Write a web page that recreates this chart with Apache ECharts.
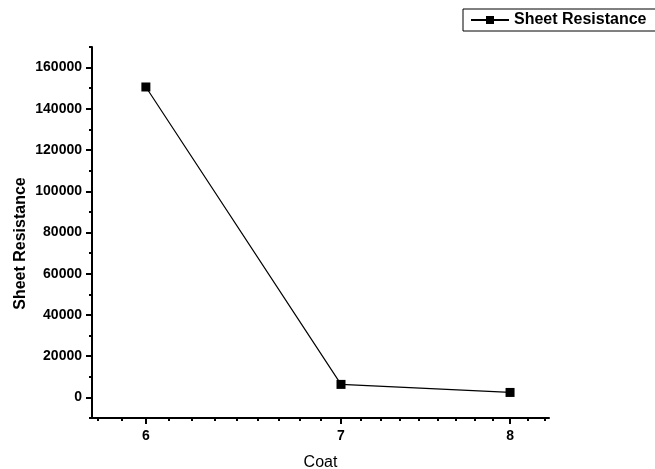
<!DOCTYPE html>
<html>
<head>
<meta charset="utf-8">
<script src="https://cdn.jsdelivr.net/npm/echarts@6/dist/echarts.min.js"></script>
<style>
html,body{margin:0;padding:0;background:#fff;}
#chart{width:655px;height:469px;}
</style>
</head>
<body>
<div id="chart"></div>
<script>
// Data
var coats = [6, 7, 8];
var sheetResistance = [150600, 6300, 2400];
var xTickLabels = [6, 7, 8];
var yTickLabels = [0, 20000, 40000, 60000, 80000, 100000, 120000, 140000, 160000];
var seriesName = 'Sheet Resistance';

// Tick helpers (axis decoration only)
var xMinor = [];
(function(){
  var starts = [5, 6, 7, 8];
  for (var s = 0; s < starts.length; s++) {
    for (var k = 1; k <= 8; k++) {
      var v = starts[s] + k / 9;
      if (v >= 5.75 && v <= 8.25) xMinor.push(v);
    }
  }
})();
var yMinor = [];
for (var v = -10000; v <= 170000; v += 20000) yMinor.push(v);

var font = '"Liberation Sans", Arial, sans-serif';
var chart = echarts.init(document.getElementById('chart'), null, {renderer: 'canvas'});
var axisLineStyle = {color: '#000', width: 2};

chart.setOption({
  animation: false,
  backgroundColor: '#fff',
  grid: {left: 92, right: 106, top: 47, bottom: 51, containLabel: false, outerBoundsMode: 'none'},
  legend: {
    left: 463, top: 9,
    data: [seriesName],
    itemWidth: 38, itemHeight: 10,
    itemGap: 5,
    borderColor: '#000', borderWidth: 1, borderRadius: 0,
    padding: [3, 60, 3, 7],
    textStyle: {fontFamily: font, fontSize: 16, fontWeight: 'bold', color: '#000'}
  },
  xAxis: [{
    type: 'log', logBase: 10, min: 5.75, max: 8.25,
    position: 'bottom',
    name: 'Coat', nameLocation: 'middle', nameGap: 37, nameMoveOverlap: false,
    nameTextStyle: {fontFamily: font, fontSize: 16, color: '#000'},
    axisLine: {show: true, onZero: false, lineStyle: axisLineStyle},
    axisTick: {show: true, inside: false, length: 6, lineStyle: {color: '#000', width: 2}, customValues: xTickLabels},
    axisLabel: {show: true, margin: 11, fontFamily: font, fontSize: 14, fontWeight: 'bold', color: '#000', customValues: xTickLabels,
      formatter: function(v){ return String(Math.round(v)); }},
    splitLine: {show: false}, minorTick: {show: false}
  }, {
    type: 'log', logBase: 10, min: 5.75, max: 8.25,
    position: 'bottom', offset: 0,
    axisLine: {show: false, onZero: false},
    axisTick: {show: true, inside: false, length: 3, lineStyle: {color: '#000', width: 2}, customValues: xMinor},
    axisLabel: {show: false},
    splitLine: {show: false}
  }],
  yAxis: [{
    type: 'value', min: -10000, max: 170000, interval: 10000,
    position: 'left',
    name: 'Sheet Resistance', nameLocation: 'middle', nameGap: 63, nameMoveOverlap: false,
    nameTextStyle: {fontFamily: font, fontSize: 16, fontWeight: 'bold', color: '#000', padding: [0, 22, 0, 0]},
    axisLine: {show: true, onZero: false, lineStyle: axisLineStyle},
    axisTick: {show: true, inside: false, length: 6, lineStyle: {color: '#000', width: 2}, customValues: yTickLabels},
    axisLabel: {show: true, margin: 10, fontFamily: font, fontSize: 14, fontWeight: 'bold', color: '#000', customValues: yTickLabels,
      formatter: function(v){ return String(v); }},
    splitLine: {show: false}
  }, {
    type: 'value', min: -10000, max: 170000, interval: 10000,
    position: 'left', offset: 0,
    axisLine: {show: false, onZero: false},
    axisTick: {show: true, inside: false, length: 3, lineStyle: {color: '#000', width: 2}, customValues: yMinor},
    axisLabel: {show: false},
    splitLine: {show: false}
  }],
  series: [{
    name: seriesName,
    type: 'line',
    xAxisIndex: 0, yAxisIndex: 0,
    data: coats.map(function(c, i){ return [c, sheetResistance[i]]; }),
    symbol: 'rect', symbolSize: 9,
    itemStyle: {color: '#000'},
    lineStyle: {color: '#000', width: 1.2},
    clip: false
  }]
});
</script>
</body>
</html>
